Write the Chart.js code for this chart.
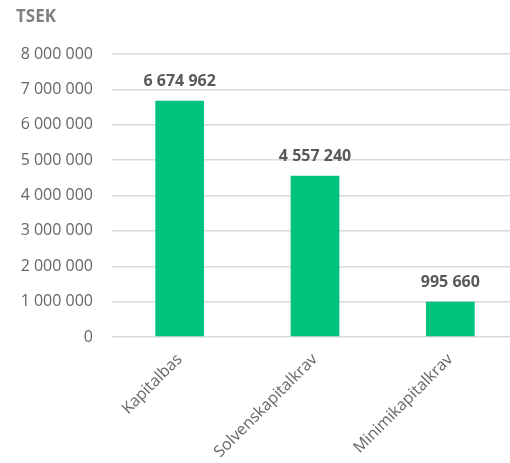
<!DOCTYPE html>
<html>
<head>
<meta charset="utf-8">
<script src="https://cdn.jsdelivr.net/npm/chart.js@4"></script>
<style>
html,body{margin:0;padding:0;overflow:hidden;background:#fff;}
#wrap{width:520px;height:463px;position:relative;}
</style>
</head>
<body>
<div id="wrap"><canvas id="c"></canvas></div>
<script>
const categories = ['Kapitalbas', 'Solvenskapitalkrav', 'Minimikapitalkrav'];
const values = [6674962, 4557240, 995660];
const yTicks = [0, 1000000, 2000000, 3000000, 4000000, 5000000, 6000000, 7000000, 8000000];
const unitTitle = 'TSEK';

function fmt(v){ return String(Math.round(v)).replace(/\B(?=(\d{3})+(?!\d))/g, ' '); }

const FONT = "'Open Sans', 'Noto Sans', sans-serif";

const valueLabels = {
  id: 'valueLabels',
  afterDatasetsDraw(chart){
    const ctx = chart.ctx;
    const meta = chart.getDatasetMeta(0);
    ctx.save();
    ctx.font = "bold 16px " + FONT;
    ctx.fillStyle = '#595959';
    ctx.textAlign = 'center';
    ctx.textBaseline = 'middle';
    meta.data.forEach((bar, i) => {
      ctx.fillText(fmt(chart.data.datasets[0].data[i]), bar.x, bar.y - 19);
    });
    ctx.restore();
  }
};

new Chart(document.getElementById('c'), {
  type: 'bar',
  data: {
    labels: categories,
    datasets: [{
      data: values,
      backgroundColor: '#00C37D',
      barPercentage: 0.36,
      categoryPercentage: 1.0
    }]
  },
  options: {
    responsive: true,
    maintainAspectRatio: false,
    animation: false,
    layout: { padding: { left: 16, right: 2, top: 0, bottom: 0 } },
    plugins: {
      legend: { display: false },
      tooltip: { enabled: false },
      title: {
        display: true,
        text: unitTitle,
        align: 'start',
        color: '#7f7f7f',
        font: { family: FONT, size: 17, weight: 'bold' },
        padding: { top: 7, bottom: 26.6 }
      }
    },
    scales: {
      x: {
        grid: { display: false, drawTicks: false },
        border: { display: false },
        ticks: {
          color: '#666666',
          font: { family: FONT, size: 16 },
          minRotation: 45,
          maxRotation: 45,
          padding: 13
        },
        afterFit(scale){ scale.height = 126; }
      },
      y: {
        min: 0,
        max: 8000000,
        grid: { color: '#d9d9d9', lineWidth: 1.5, drawTicks: false },
        border: { display: false },
        afterBuildTicks(scale){ scale.ticks = yTicks.map(v => ({ value: v })); },
        ticks: {
          color: '#666666',
          font: { family: FONT, size: 16 },
          padding: 19,
          callback: (v) => fmt(v)
        },
        afterFit(scale){ scale.width = 96; }
      }
    }
  },
  plugins: [valueLabels]
});
</script>
</body>
</html>
